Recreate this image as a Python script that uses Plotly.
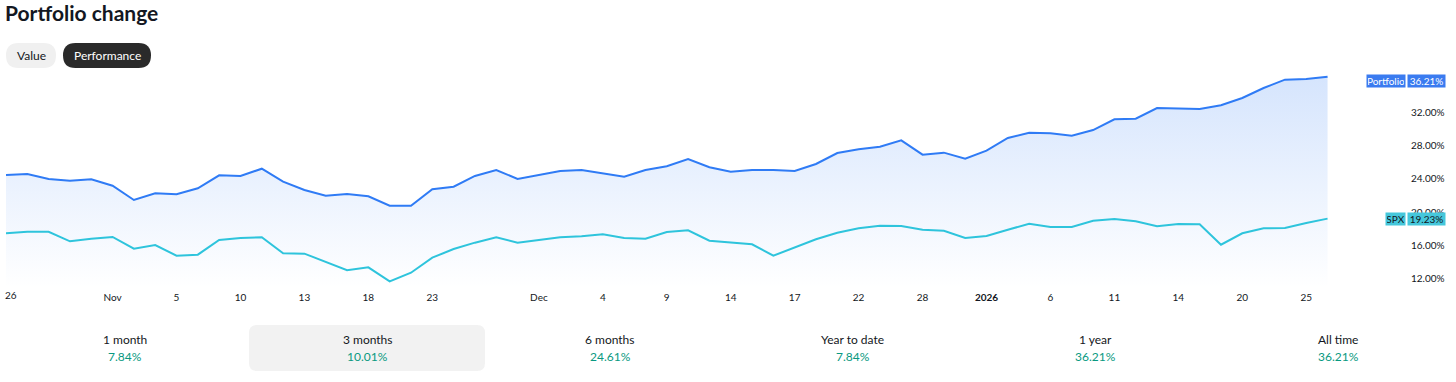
import plotly.graph_objects as go

# ---------------- data ----------------
portfolio = [24.46, 24.57, 23.98, 23.77, 23.94, 23.17, 21.46, 22.26, 22.14, 22.86,
             24.42, 24.34, 25.21, 23.65, 22.66, 21.98, 22.18, 21.90, 20.78, 20.78,
             22.74, 23.05, 24.34, 25.05, 23.98, 24.46, 24.93, 25.05, 24.66, 24.25,
             25.05, 25.50, 26.37, 25.38, 24.85, 25.05, 25.05, 24.93, 25.77, 27.09,
             27.53, 27.84, 28.61, 26.89, 27.13, 26.41, 27.37, 28.89, 29.52, 29.45,
             29.16, 29.84, 31.13, 31.20, 32.48, 32.44, 32.36, 32.80, 33.68, 34.87,
             35.87, 35.95, 36.21]
spx = [17.47, 17.66, 17.66, 16.51, 16.83, 17.03, 15.63, 16.07, 14.79, 14.91,
       16.67, 16.91, 16.99, 15.08, 15.03, 14.00, 13.04, 13.40, 11.72, 12.75,
       14.55, 15.59, 16.35, 16.99, 16.35, 16.67, 16.99, 17.11, 17.35, 16.91,
       16.83, 17.63, 17.83, 16.59, 16.40, 16.16, 14.79, 15.75, 16.75, 17.54,
       18.07, 18.38, 18.35, 17.90, 17.78, 16.91, 17.15, 17.90, 18.62, 18.23,
       18.23, 18.98, 19.19, 18.91, 18.31, 18.59, 18.55, 16.11, 17.47, 18.07,
       18.11, 18.71, 19.23]
x_tick_pos = [0, 5, 8, 11, 14, 17, 20, 25, 28, 31, 34, 37, 40, 43, 46, 49, 52, 55, 58, 61]
x_tick_text = ["26", "Nov", "5", "10", "13", "18", "23", "Dec", "4", "9", "14", "17",
               "22", "28", "<b>2026</b>", "6", "11", "14", "20", "25"]
y_ticks = [12, 16, 20, 24, 28, 32]
y_tick_text = ["12.00%", "16.00%", "20.00%", "24.00%", "28.00%", "32.00%"]
periods = ["1 month", "3 months", "6 months", "Year to date", "1 year", "All time"]
period_returns = ["7.84%", "10.01%", "24.61%", "7.84%", "36.21%", "36.21%"]
series_names = ["Portfolio", "SPX"]

# ---------------- layout geometry ----------------
W, H = 1456, 382
L, R, T, B = 6, 1406, 70, 288
PW, PH = R - L, B - T
Y_MIN, Y_MAX = 10.92, 37.03
X_MIN, X_MAX = 0, 65.68

FONT = "Lato"
BLUE = "#2F7BF5"
CYAN = "#2EC4DC"
GREEN = "#089981"
INK = "#131722"


def px(x):
    return (x - L) / PW


def py(y):
    return (B - y) / PH


def rounded_rect(x0, y0, x1, y1, r):
    pts = [
        ("M", x0 + r, y0), ("L", x1 - r, y0), ("Q", x1, y0, x1, y0 + r),
        ("L", x1, y1 - r), ("Q", x1, y1, x1 - r, y1), ("L", x0 + r, y1),
        ("Q", x0, y1, x0, y1 - r), ("L", x0, y0 + r), ("Q", x0, y0, x0 + r, y0),
    ]
    out = []
    for p in pts:
        if p[0] == "Q":
            out.append(f"Q{px(p[1])},{py(p[2])} {px(p[3])},{py(p[4])}")
        else:
            out.append(f"{p[0]}{px(p[1])},{py(p[2])}")
    return " ".join(out) + " Z"


n = len(portfolio)
xs = list(range(n))

fig = go.Figure()
fig.add_trace(go.Scatter(
    x=xs, y=portfolio, mode="lines", name=series_names[0],
    line=dict(color=BLUE, width=2),
    fill="tozeroy",
    fillgradient=dict(type="vertical", start=Y_MIN, stop=max(portfolio),
                      colorscale=[[0, "rgba(47,123,245,0.0)"], [1, "rgba(47,123,245,0.20)"]]),
    hoverinfo="skip",
))
fig.add_trace(go.Scatter(
    x=xs, y=spx, mode="lines", name=series_names[1],
    line=dict(color=CYAN, width=2),
    hoverinfo="skip",
))

shapes = [
    dict(type="path", xref="paper", yref="paper", path=rounded_rect(6, 43, 56, 68, 12.5),
         fillcolor="#F0F0F0", line=dict(width=0), layer="above"),
    dict(type="path", xref="paper", yref="paper", path=rounded_rect(63, 43, 151, 68, 12.5),
         fillcolor="#2A2A2A", line=dict(width=0), layer="above"),
    dict(type="path", xref="paper", yref="paper", path=rounded_rect(249, 325, 485, 371, 8),
         fillcolor="#F2F2F2", line=dict(width=0), layer="above"),
]

annotations = [
    dict(text="<b>Portfolio change</b>", xref="paper", yref="paper", x=px(3), y=py(13),
         xanchor="left", yanchor="middle", showarrow=False,
         font=dict(family=FONT, size=21, color=INK)),
    dict(text="Value", xref="paper", yref="paper", x=px(31), y=py(56),
         xanchor="center", yanchor="middle", showarrow=False,
         font=dict(family=FONT, size=12, color=INK)),
    dict(text="Performance", xref="paper", yref="paper", x=px(107), y=py(56),
         xanchor="center", yanchor="middle", showarrow=False,
         font=dict(family=FONT, size=12, color="#FFFFFF")),
    # first date label, nudged inside the chart's left edge (as in the original)
    dict(text=x_tick_text[0], xref="x", yref="paper", x=x_tick_pos[0], y=py(295),
         xanchor="center", yanchor="middle", xshift=5, showarrow=False,
         font=dict(family=FONT, size=10, color=INK)),
]

for i, (lab, val) in enumerate(zip(periods, period_returns)):
    cx = 125 + i * 242.6
    annotations.append(dict(text=lab, xref="paper", yref="paper", x=px(cx), y=py(339),
                            xanchor="center", yanchor="middle", showarrow=False,
                            font=dict(family=FONT, size=12, color=INK)))
    annotations.append(dict(text=val, xref="paper", yref="paper", x=px(cx), y=py(356),
                            xanchor="center", yanchor="middle", showarrow=False,
                            font=dict(family=FONT, size=12, color=GREEN)))

# last-value labels
for name, series, color, nw, shift in [(series_names[0], portfolio, "#3A7BF0", 36, -4),
                                        (series_names[1], spx, "#45C7DB", 17, 0)]:
    tcol = "#FFFFFF" if name == series_names[0] else INK
    annotations.append(dict(text=name, xref="paper", yref="y", x=1.0, y=series[-1],
                            xanchor="right", yanchor="middle", yshift=shift, showarrow=False,
                            bgcolor=color, borderpad=1, width=nw, height=10,
                            font=dict(family=FONT, size=10, color=tcol)))
    annotations.append(dict(text=f"{series[-1]:.2f}%", xref="paper", yref="y", x=1.0, y=series[-1],
                            xanchor="left", yanchor="middle", xshift=1, yshift=shift, showarrow=False,
                            bgcolor=color, borderpad=1, width=35, height=10,
                            font=dict(family=FONT, size=10, color=tcol)))

fig.update_layout(
    width=W, height=H,
    margin=dict(l=L, r=W - R, t=T, b=H - B, autoexpand=False),
    paper_bgcolor="white", plot_bgcolor="white",
    showlegend=False,
    shapes=shapes,
    annotations=annotations,
    xaxis=dict(range=[X_MIN, X_MAX], tickvals=x_tick_pos[1:], ticktext=x_tick_text[1:],
               showgrid=False, zeroline=False, showline=False, ticks="",
               ticklabelstandoff=2, automargin=False,
               tickfont=dict(family=FONT, size=10, color=INK), fixedrange=True),
    yaxis=dict(range=[Y_MIN, Y_MAX], side="right", tickvals=y_ticks, ticktext=y_tick_text,
               showgrid=False, zeroline=False, showline=False, ticks="",
               ticklabelstandoff=4, automargin=False,
               tickfont=dict(family=FONT, size=10, color=INK), fixedrange=True),
)

fig.write_html("out.html", config={"displayModeBar": False},
               post_script="document.body.style.margin='0';document.body.style.overflow='hidden';")
